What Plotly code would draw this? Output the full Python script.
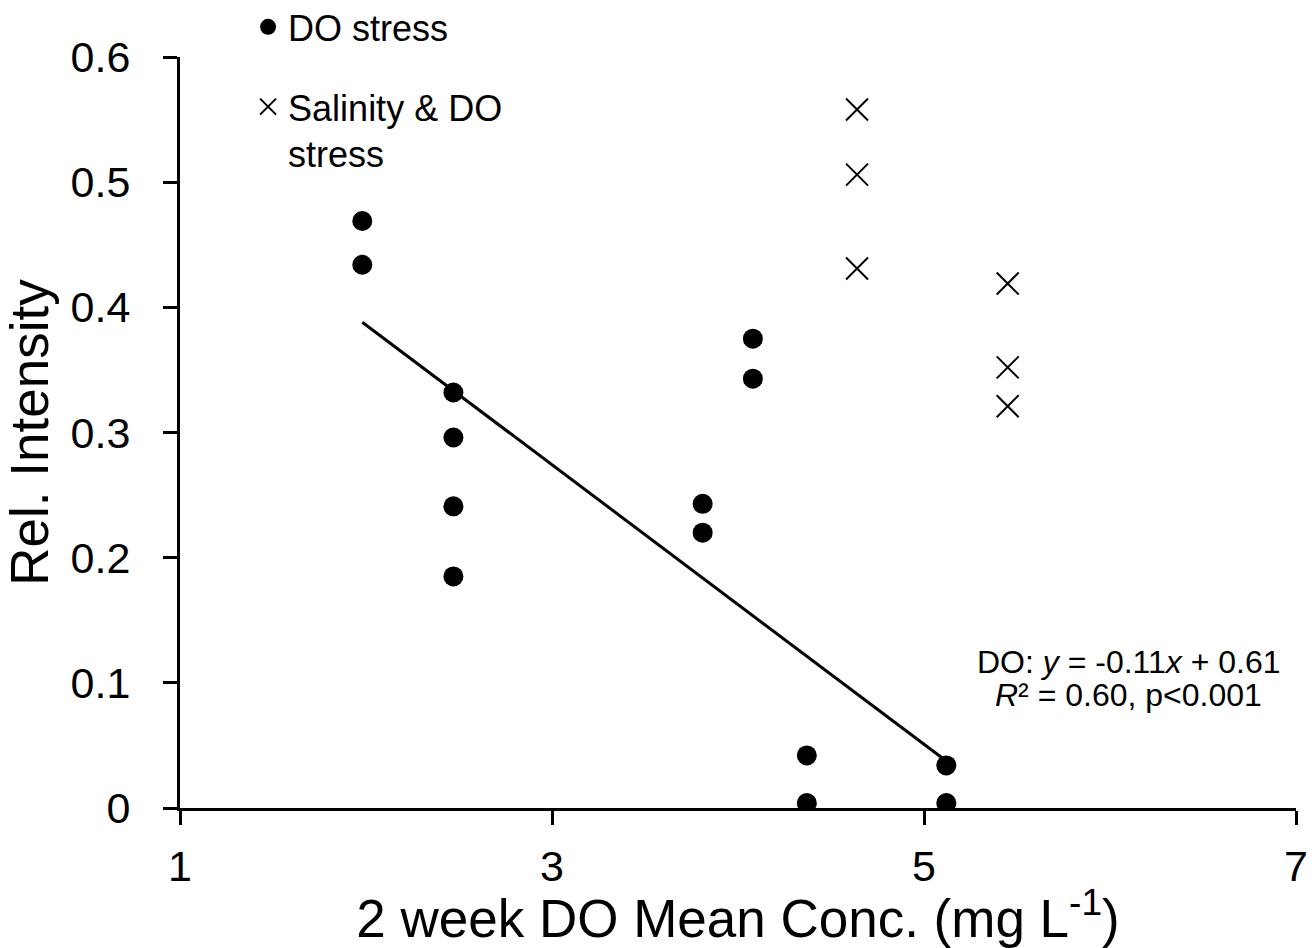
import plotly.graph_objects as go
import numpy as np

# DO stress points
do_x = [1.98, 1.98, 2.47, 2.47, 2.47, 2.47, 3.81, 3.81, 4.08, 4.08, 4.37, 4.37, 5.12, 5.12]
do_y = [0.469, 0.434, 0.332, 0.296, 0.241, 0.185, 0.243, 0.220, 0.375, 0.343, 0.042, 0.004, 0.034, 0.004]

# Salinity & DO stress points
sal_x = [4.64, 4.64, 4.64, 5.45, 5.45, 5.45]
sal_y = [0.558, 0.506, 0.431, 0.419, 0.352, 0.321]

# trend line (DO)
trend_slope = -0.1116
trend_intercept = 0.609
trend_x = [min(do_x), max(do_x)]

x_ticks = [1, 3, 5, 7]
y_ticks = [0, 0.1, 0.2, 0.3, 0.4, 0.5, 0.6]
y_ticktext = ["0", "0.1", "0.2", "0.3", "0.4", "0.5", "0.6"]

FONT = "Liberation Sans, Arial, sans-serif"

fig = go.Figure()
fig.add_trace(go.Scatter(
    x=do_x, y=do_y, mode="markers", name="DO stress", legendgroup="a",
    marker=dict(symbol="circle", size=20, color="black"),
))
fig.add_trace(go.Scatter(
    x=sal_x, y=sal_y, mode="markers", name="Salinity & DO<br>stress", legendgroup="b",
    marker=dict(symbol="x-thin-open", size=22, color="black", line=dict(width=2, color="black")),
))
tx = np.array(trend_x)
fig.add_trace(go.Scatter(
    x=tx, y=trend_slope * tx + trend_intercept, mode="lines", showlegend=False,
    line=dict(color="black", width=3),
))

fig.add_annotation(x=6.10, y=0.1166, xref="x", yref="y", showarrow=False,
                   text="DO: <i>y</i> = -0.11<i>x</i> + 0.61",
                   font=dict(family=FONT, size=32, color="black"), xanchor="center", yanchor="middle")
fig.add_annotation(x=6.10, y=0.0903, xref="x", yref="y", showarrow=False,
                   text="<i>R</i>² = 0.60, p&lt;0.001",
                   font=dict(family=FONT, size=32, color="black"), xanchor="center", yanchor="middle")

fig.update_layout(
    width=1312, height=948,
    margin=dict(l=180, r=16, t=57, b=140, autoexpand=False),
    paper_bgcolor="white", plot_bgcolor="white",
    font=dict(family=FONT, color="black"),
    legend=dict(
        x=0.061, y=1.080, xanchor="left", yanchor="top",
        font=dict(family=FONT, size=36, color="black"),
        bgcolor="rgba(0,0,0,0)", valign="top", tracegroupgap=30,
    ),
    xaxis=dict(
        range=[1, 7], tickvals=x_ticks, ticktext=[str(v) for v in x_ticks],
        showgrid=False, zeroline=False, showline=True, linecolor="black", linewidth=3,
        ticks="outside", ticklen=14, tickwidth=3, tickcolor="black", automargin=False,
        tickfont=dict(family=FONT, size=43, color="black"), ticklabelstandoff=4,
        title=dict(text="2 week DO Mean Conc. (mg L<sup>-1</sup>)",
                   font=dict(family=FONT, size=53, color="black"), standoff=8),
    ),
    yaxis=dict(
        range=[0, 0.6], tickvals=y_ticks, ticktext=y_ticktext,
        showgrid=False, zeroline=False, showline=True, linecolor="black", linewidth=3,
        ticks="outside", ticklen=14, tickwidth=3, tickcolor="black", automargin=False,
        tickfont=dict(family=FONT, size=43, color="black"), ticklabelstandoff=24,
        title=dict(text="Rel. Intensity",
                   font=dict(family=FONT, size=53, color="black"), standoff=10),
    ),
)

fig.write_html("out.html")
